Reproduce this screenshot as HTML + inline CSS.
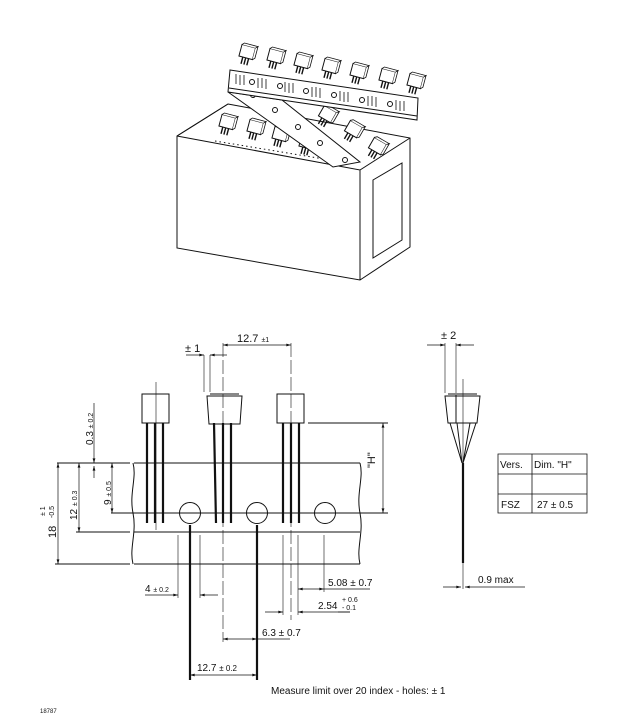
<!DOCTYPE html>
<html><head><meta charset="utf-8"><style>
html,body{margin:0;padding:0;background:#fff;width:639px;height:722px;overflow:hidden}
svg{display:block}
text{font-family:"Liberation Sans",sans-serif;fill:#111}
</style></head><body>
<svg width="639" height="722" viewBox="0 0 639 722" xmlns="http://www.w3.org/2000/svg">
<defs>
<marker id="a" viewBox="0 0 10 6" refX="10" refY="3" markerWidth="8" markerHeight="4" orient="auto-start-reverse"><path d="M0,0L10,3L0,6z" fill="#111"/></marker>
<g id="cmp"><rect x="-7" y="-7" width="14" height="12" fill="#fff" stroke="#111" stroke-width="1"/><path d="M-7,-7l2,-2h14l-2,2M7,-7l2,-2v12l-2,2" fill="#fff" stroke="#111" stroke-width="0.8"/><path d="M-3,5v7M0,5v7M3,5v7" stroke="#111" stroke-width="1.4"/></g>
</defs>
<g stroke="#111" fill="none" stroke-width="1">
<path d="M228,104L410,138L410,247L360,280L177,248L177,136Z" fill="#fff"/>
<path d="M177,136L228,104M177,136L360,170L410,138M360,170V280"/>
<path d="M373,180L402,163V240L373,258Z"/>
<use href="#cmp" transform="translate(227,123) rotate(15)"/>
<use href="#cmp" transform="translate(255,128) rotate(15)"/>
<use href="#cmp" transform="translate(280,135) rotate(15)"/>
<use href="#cmp" transform="translate(307,143) rotate(15)"/>
<path d="M215,141L330,160" stroke-dasharray="1.5 3"/>
<path d="M228,92L282,100L360,162L333,167Z" fill="#fff"/>
<circle cx="253" cy="95" r="2.5"/><circle cx="275" cy="110" r="2.5"/><circle cx="298" cy="127" r="2.5"/><circle cx="320" cy="143" r="2.5"/><circle cx="345" cy="160" r="2.5"/>
<use href="#cmp" transform="translate(327,115) rotate(30)"/>
<use href="#cmp" transform="translate(353,130) rotate(30)"/>
<use href="#cmp" transform="translate(377,147) rotate(30)"/>
<path d="M230,70L418,98L417,120L228,92Z" fill="#fff"/>
<path d="M229,88L417,116"/>
<g stroke-width="0.8">
<path d="M236,74v10M240,75v10M244,75v10M258,78v10M262,78v10M266,79v10M285,82v10M289,83v10M293,83v10M312,87v10M316,87v10M320,88v10M340,91v10M344,92v10M348,92v10M368,96v10M372,96v10M376,97v10M396,100v10M400,101v10M404,101v10"/>
</g>
<circle cx="252" cy="82" r="2.5"/><circle cx="280" cy="86" r="2.5"/><circle cx="306" cy="91" r="2.5"/><circle cx="334" cy="95" r="2.5"/><circle cx="362" cy="100" r="2.5"/><circle cx="390" cy="104" r="2.5"/>
<use href="#cmp" transform="translate(247,53) rotate(15)"/>
<use href="#cmp" transform="translate(275,57) rotate(15)"/>
<use href="#cmp" transform="translate(302,62) rotate(15)"/>
<use href="#cmp" transform="translate(330,67) rotate(15)"/>
<use href="#cmp" transform="translate(358,72) rotate(15)"/>
<use href="#cmp" transform="translate(387,77) rotate(15)"/>
<use href="#cmp" transform="translate(415,82) rotate(15)"/>

<path d="M57,463H130M76,532H130M55,564H130M111,513H133"/>
<path d="M134,463H360M134,532H360M134,564H360M133,463c4,15,-4,30,0,50c4,20,-4,35,0,51M360,463c4,15,-4,30,0,50c4,20,-4,35,0,51"/>
<path d="M111,513H388M308,423H388"/>
<circle cx="190" cy="513" r="10.5"/><circle cx="257" cy="513" r="10.5"/><circle cx="325" cy="513" r="10.5"/>
<rect x="142" y="394" width="27" height="29"/>
<path d="M207,396h35l-2,28h-31zM210,394h29"/>
<rect x="277" y="394" width="27" height="29"/>
<g stroke-width="2.2">
<path d="M147,423V523M155,423V523M163,423V523"/>
<path d="M214,423l2,100M223,423V523M231,423V523"/>
<path d="M283,423V523M291,423V523M299,423V523"/>
</g>
<g stroke-width="0.6">
<path d="M156,382V530"/><path d="M223,343V642" stroke-dasharray="14 3"/><path d="M291,343V620" stroke-dasharray="14 3"/>
<path d="M204,355V392M210,355V392M178,535V598M200,535V598M283,535V615M298,535V615M324,535V592"/>
</g>
<path d="M190,525V680M257,525V680" stroke-width="2.2"/>
<g stroke-width="0.7">
<path d="M223,345H291" marker-start="url(#a)" marker-end="url(#a)"/>
<path d="M186,355H204" marker-end="url(#a)"/><path d="M227,355H210" marker-end="url(#a)"/>
<path d="M383,423V513" marker-start="url(#a)" marker-end="url(#a)"/>
<path d="M58,463V564" marker-start="url(#a)" marker-end="url(#a)"/>
<path d="M79,463V532" marker-start="url(#a)" marker-end="url(#a)"/>
<path d="M112,463V513" marker-start="url(#a)" marker-end="url(#a)"/>
<path d="M94,403V463" marker-end="url(#a)"/><path d="M94,478V466" marker-end="url(#a)"/>
<path d="M145,595H178" marker-end="url(#a)"/><path d="M218,595H200" marker-end="url(#a)"/>
<path d="M298,589H324" marker-start="url(#a)" marker-end="url(#a)"/>
<path d="M265,612H283" marker-end="url(#a)"/><path d="M350,612H298" marker-end="url(#a)"/>
<path d="M223,639H257" marker-start="url(#a)" marker-end="url(#a)"/><path d="M257,639H290"/>
<path d="M190,675H257" marker-start="url(#a)" marker-end="url(#a)"/>
<path d="M324,589H370M338,612H350"/>
</g>
<path d="M445,396h35l-3,27h-29zM448,394h29M456,395V423"/>
<path d="M450,423l12,40M457,423l5,40M470,423l-7,40M476,423l-13,40"/>
<path d="M463,463V563" stroke-width="2.2"/>
<path d="M463,379V589M445,343V393M456,343V393" stroke-width="0.6"/>
<path d="M427,345H445" stroke-width="0.7" marker-end="url(#a)"/><path d="M474,345H456" stroke-width="0.7" marker-end="url(#a)"/>
<path d="M443,587H461" stroke-width="0.7" marker-end="url(#a)"/><path d="M525,587H465" stroke-width="0.7" marker-end="url(#a)"/>
<path d="M498,454H587V513H498ZM498,474H587M498,494H587M532,454V513" stroke-width="0.8"/>
</g>
<g font-size="11">
<text x="237" y="342">12.7 <tspan font-size="7">±1</tspan></text>
<text x="185" y="352">± 1</text>
<text x="441" y="339">± 2</text>
<text transform="translate(375,468) rotate(-90)">"H"</text>
<text transform="translate(93,445) rotate(-90)" font-size="10">0.3 <tspan font-size="7">± 0.2</tspan></text>
<text transform="translate(111,505) rotate(-90)" font-size="10">9 <tspan font-size="7">± 0.5</tspan></text>
<text transform="translate(77,520) rotate(-90)" font-size="10">12 <tspan font-size="7">± 0.3</tspan></text>
<text transform="translate(56,538) rotate(-90)" font-size="11">18</text>
<text transform="translate(45,516) rotate(-90)" font-size="7">± 1</text>
<text transform="translate(54,518) rotate(-90)" font-size="7">-0.5</text>
<text x="145" y="592" font-size="10">4 <tspan font-size="7">± 0.2</tspan></text>
<text x="328" y="586" font-size="10">5.08 ± 0.7</text>
<text x="318" y="609" font-size="10">2.54</text>
<text x="342" y="602" font-size="7">+ 0.6</text>
<text x="342" y="610" font-size="7">- 0.1</text>
<text x="262" y="636" font-size="10">6.3 ± 0.7</text>
<text x="197" y="671" font-size="10">12.7 <tspan font-size="8">± 0.2</tspan></text>
<text x="478" y="583" font-size="10">0.9 max</text>
<text x="271" y="694" font-size="10">Measure limit over 20 index - holes: ± 1</text>
<text x="40" y="713" font-size="6">18787</text>
<text x="500" y="468" font-size="10">Vers.</text>
<text x="534" y="468" font-size="10">Dim. "H"</text>
<text x="501" y="508" font-size="10">FSZ</text>
<text x="537" y="508" font-size="10">27 ± 0.5</text>
</g>
</svg>
</body></html>
